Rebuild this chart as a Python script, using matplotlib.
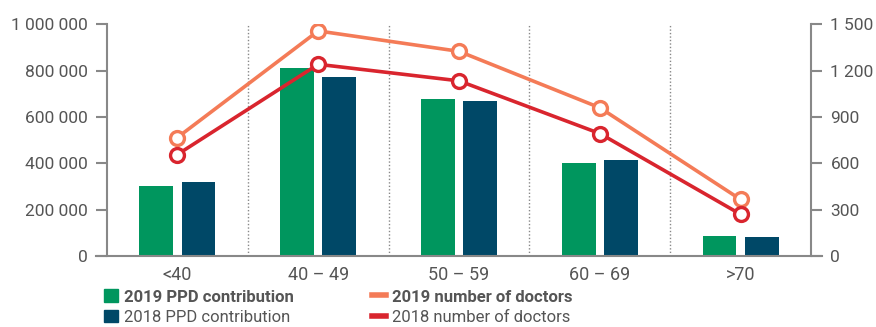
import matplotlib.pyplot as plt
from matplotlib.lines import Line2D
from matplotlib.patches import Patch
import numpy as np

plt.rcParams['font.family'] = ['Liberation Sans Narrow', 'Roboto', 'DejaVu Sans']

age_groups = ['<40', '40 – 49', '50 – 59', '60 – 69', '>70']
ppd_2019 = [301000, 811000, 677000, 401000, 86000]
ppd_2018 = [318000, 771000, 669000, 414000, 82000]
doctors_2019 = [767, 1457, 1325, 960, 366]
doctors_2018 = [657, 1241, 1134, 793, 270]

left_ticks = [0, 200000, 400000, 600000, 800000, 1000000]
left_labels = ['0', '200 000', '400 000', '600 000', '800 000', '1 000 000']
right_ticks = [0, 300, 600, 900, 1200, 1500]
right_labels = ['0', '300', '600', '900', '1 200', '1 500']

green = '#00965e'
navy = '#004867'
orange = '#f47b57'
red = '#d9252e'
grey = '#888888'
txt = '#555555'

fig = plt.figure(figsize=(8.76, 3.27), dpi=100)
ax = fig.add_axes([0.1221, 0.2171, 0.8037, 0.7086])
ax2 = ax.twinx()

x = np.arange(len(age_groups))
w = 0.24
ax.bar(x - 0.15, ppd_2019, width=w, color=green, zorder=2)
ax.bar(x + 0.15, ppd_2018, width=w, color=navy, zorder=2)

# dotted separators between age groups
for b in x[:-1] + 0.5:
    ax.plot([b, b], [0, 1000000], color=grey, lw=1, ls=(0, (1, 1.5)), zorder=1)

ax.set_xlim(-0.5, 4.5)
ax.set_ylim(0, 1000000)
ax2.set_ylim(0, 1500)

ax2.plot(x, doctors_2019, color=orange, lw=2.6, marker='o', ms=10,
         mfc='white', mec=orange, mew=2.4, zorder=3)
ax2.plot(x, doctors_2018, color=red, lw=2.6, marker='o', ms=10,
         mfc='white', mec=red, mew=2.4, zorder=3)

ax.set_yticks(left_ticks)
ax.set_yticklabels(left_labels)
ax2.set_yticks(right_ticks)
ax2.set_yticklabels(right_labels)
ax.set_xticks(x)
ax.set_xticklabels(age_groups)

for a in (ax, ax2):
    for s in ('top', 'bottom'):
        a.spines[s].set_visible(False)
    a.tick_params(axis='y', length=8, width=1.5, color=grey, labelsize=12.5,
                  labelcolor=txt, pad=6)
ax.spines['left'].set_color(grey)
ax.spines['left'].set_linewidth(1.5)
ax.spines['right'].set_visible(False)
ax2.spines['left'].set_visible(False)
ax2.spines['right'].set_color(grey)
ax2.spines['right'].set_linewidth(1.5)
ax.tick_params(axis='x', length=0, labelsize=13, labelcolor=txt, pad=7)

# baseline running under both tick stubs
ax.add_line(Line2D([-0.016, 1.016], [0, 0], transform=ax.transAxes,
                   color=grey, lw=1.5, clip_on=False, zorder=4))

handles = [Patch(color=green), Patch(color=navy),
           Line2D([], [], color=orange, lw=4), Line2D([], [], color=red, lw=4)]
labels = ['2019 PPD contribution', '2018 PPD contribution',
          '2019 number of doctors', '2018 number of doctors']
leg = fig.legend(handles, labels, ncol=2, loc='upper left',
                 bbox_to_anchor=(0.119, 0.115), frameon=False, fontsize=12,
                 handlelength=0.8, handleheight=0.8, handletextpad=0.4,
                 labelspacing=0.3, columnspacing=4.7, borderpad=0,
                 borderaxespad=0)
for i, t in enumerate(leg.get_texts()):
    t.set_color(txt)
    if i in (0, 2):
        t.set_fontweight('bold')

fig.savefig('out.png', dpi=100)
